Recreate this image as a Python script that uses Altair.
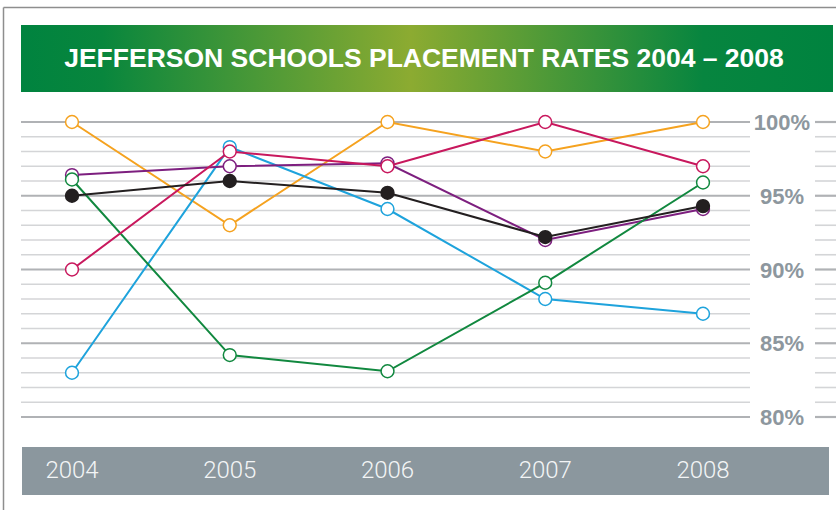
import altair as alt
import pandas as pd

# ---- data ----
years = [2004, 2005, 2006, 2007, 2008]
series_names = ["Series 1", "Series 2", "Series 3", "Series 4", "Series 5", "Series 6"]
orange_vals = [100, 93.0, 100, 98.0, 100]
blue_vals = [83.0, 98.3, 94.1, 88.0, 87.0]
purple_vals = [96.4, 97.0, 97.2, 92.0, 94.1]
green_vals = [96.1, 84.2, 83.1, 89.1, 95.9]
crimson_vals = [90.0, 98.0, 97.0, 100, 97.0]
black_vals = [95.0, 96.0, 95.2, 92.2, 94.3]
grid_values = list(range(80, 101))
label_values = [80, 85, 90, 95, 100]
title_text = "JEFFERSON SCHOOLS PLACEMENT RATES 2004 \u2013 2008"

# ---- styles ----
series_colors = ["#f5a21f", "#1ea3dc", "#7d1f7f", "#11883f", "#c8185d", "#231f20"]
series_fills = ["#ffffff", "#ffffff", "#ffffff", "#ffffff", "#ffffff", "#231f20"]

W, H = 836, 510
# pixel anchors of the layout
X_FIRST, X_STEP = 72.0, 157.75       # 2004 position and px per year
Y_100, PX_PER_PCT = 122.0, 14.75      # 100% position and px per percent

x_lo = years[0] - X_FIRST / X_STEP
x_hi = years[0] + (W - X_FIRST) / X_STEP
y_hi = 100 + Y_100 / PX_PER_PCT
y_lo = 100 - (H - Y_100) / PX_PER_PCT

xs = alt.Scale(domain=[x_lo, x_hi], nice=False, zero=False)
ys = alt.Scale(domain=[y_lo, y_hi], nice=False, zero=False)

all_vals = [orange_vals, blue_vals, purple_vals, green_vals, crimson_vals, black_vals]
rows = []
for name, vals in zip(series_names, all_vals):
    for yr, v in zip(years, vals):
        rows.append({"series": name, "year": yr, "value": v})
df = pd.DataFrame(rows)

one = pd.DataFrame({"k": [0]})
grid_df = pd.DataFrame({"v": grid_values})
lab_df = pd.DataFrame({"v": label_values, "t": [f"{v}%" for v in label_values]})
year_df = pd.DataFrame({"year": years, "t": [str(y) for y in years]})

# border lines
border_left = alt.Chart(one).mark_rule(color="#8e8e8e", strokeWidth=1.5).encode(
    x=alt.value(3.5), y=alt.value(7.5), y2=alt.value(H))
border_top = alt.Chart(one).mark_rule(color="#8e8e8e", strokeWidth=1.5).encode(
    x=alt.value(3.5), x2=alt.value(W), y=alt.value(7.5))

# green banner
banner = alt.Chart(one).mark_rect(
    fill={
        "gradient": "linear",
        "x1": 0, "x2": 1, "y1": 0, "y2": 0,
        "stops": [
            {"offset": 0.0, "color": "#00833f"},
            {"offset": 0.1, "color": "#08863d"},
            {"offset": 0.48, "color": "#8cab31"},
            {"offset": 0.84, "color": "#07853f"},
            {"offset": 1.0, "color": "#00833f"},
        ],
    }
).encode(x=alt.value(21), x2=alt.value(833), y=alt.value(25), y2=alt.value(92))

title = alt.Chart(one).mark_text(
    text=title_text, color="white", font="Liberation Sans", fontWeight="bold",
    fontSize=26.5, align="center", baseline="alphabetic"
).encode(x=alt.value(424), y=alt.value(67))

# grid lines
grid_cond_color = alt.condition("datum.v % 5 == 0", alt.value("#b0b2b5"), alt.value("#d4d5d7"))
grid_cond_w = alt.condition("datum.v % 5 == 0", alt.value(2.2), alt.value(1.6))
grid_main = alt.Chart(grid_df).mark_rule().encode(
    y=alt.Y("v:Q", scale=ys, axis=None),
    x=alt.value(21), x2=alt.value(750),
    color=grid_cond_color, strokeWidth=grid_cond_w)
grid_right = alt.Chart(grid_df).mark_rule().encode(
    y=alt.Y("v:Q", scale=ys, axis=None),
    x=alt.value(815), x2=alt.value(W),
    color=grid_cond_color, strokeWidth=grid_cond_w)

pct_labels = alt.Chart(lab_df).mark_text(
    font="Liberation Sans", fontWeight="bold", fontSize=22, color="#8d979e",
    align="center", baseline="alphabetic", dy=8
).encode(y=alt.Y("v:Q", scale=ys, axis=None), x=alt.value(782), text="t:N")

# bottom band with years
band = alt.Chart(one).mark_rect(color="#8b979e").encode(
    x=alt.value(22), x2=alt.value(829), y=alt.value(447), y2=alt.value(495))
year_labels = alt.Chart(year_df).mark_text(
    font="Roboto", fontWeight=300, fontSize=24, color="#f3f5f6",
    align="center", baseline="alphabetic"
).encode(x=alt.X("year:Q", scale=xs, axis=None), y=alt.value(478), text="t:N")

color_scale = alt.Scale(domain=series_names, range=series_colors)
fill_scale = alt.Scale(domain=series_names, range=series_fills)

lines = alt.Chart(df).mark_line(strokeWidth=2).encode(
    x=alt.X("year:Q", scale=xs, axis=None),
    y=alt.Y("value:Q", scale=ys, axis=None),
    color=alt.Color("series:N", scale=color_scale, legend=None),
    detail="series:N",
)
points = alt.Chart(df).mark_point(
    filled=True, shape="circle", size=165, strokeWidth=1.5, opacity=1
).encode(
    x=alt.X("year:Q", scale=xs, axis=None),
    y=alt.Y("value:Q", scale=ys, axis=None),
    stroke=alt.Stroke("series:N", scale=color_scale, legend=None),
    fill=alt.Fill("series:N", scale=fill_scale, legend=None),
)

chart = alt.layer(
    border_left, border_top, banner, title, grid_main, grid_right, pct_labels,
    band, year_labels, lines, points
).resolve_scale(color="independent").properties(
    width=W, height=H, padding=0, autosize=alt.AutoSizeParams(type="none"),
    background="white"
).configure_view(stroke=None)

chart.save("out.html", embed_options={"renderer": "svg", "actions": False})
